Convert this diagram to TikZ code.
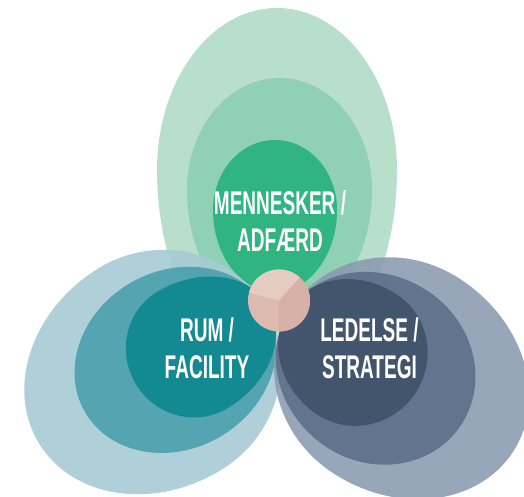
\documentclass[tikz,border=0pt]{standalone}
\usepackage{fontspec}
\newfontfamily\condfont[FakeStretch=0.58]{Liberation Sans}
\definecolor{tOut}{HTML}{B7DFCC}
\definecolor{tMid}{HTML}{90D0B4}
\definecolor{tIn}{HTML}{2FB482}
\definecolor{lOut}{HTML}{A6CBD5}
\definecolor{lMid}{HTML}{4B9FAE}
\definecolor{lIn}{HTML}{0D878F}
\definecolor{rOut}{HTML}{8A9AB0}
\definecolor{rMid}{HTML}{5B6E88}
\definecolor{rIn}{HTML}{3E5169}
\definecolor{cA}{HTML}{E4CCC1}
\definecolor{cB}{HTML}{DCBAB0}
\definecolor{cC}{HTML}{D7B1A8}
\tikzset{
  label/.style={text=white, align=center, font=\condfont\bfseries\fontsize{32.8}{37}\selectfont, inner sep=0pt}
}
% #1 colour, #2 widest point, #3 axis angle, #4 half width, #5 far radius, #6 near radius
\newcommand\eggshape[6]{%
  \fill[#1, shift={#2}, rotate=#3] (0,#4) arc[start angle=90, end angle=-90, x radius=#5pt, y radius=#4pt]
    arc[start angle=270, end angle=90, x radius=#6pt, y radius=#4pt] -- cycle;}
\begin{document}
\begin{tikzpicture}[x=1pt,y=1pt]
\useasboundingbox (0,0) rectangle (524,497);
% top petal
\eggshape{tOut}{(277,327)}{90}{120}{162}{200}
\eggshape{tMid}{(279.5,307)}{90}{92.5}{112}{130}
\eggshape{tIn}{(275,287)}{90}{62}{70}{82}
% left petal
\begin{scope}[fill opacity=0.9]
\eggshape{lOut}{(160,128)}{212}{118}{142}{122}
\eggshape{lMid}{(175,137)}{210}{89}{104}{105}
\eggshape{lIn}{(192.4,147)}{210}{68}{66}{88}
\end{scope}
% right petal
\begin{scope}[fill opacity=0.88]
\eggshape{rOut}{(396.5,121)}{-33}{116}{139}{125}
\eggshape{rMid}{(377,128)}{-35}{93}{101}{105}
\eggshape{rIn}{(357,142.5)}{-35}{72}{70}{82}
\end{scope}
% centre circle
\coordinate (c) at (279,196.5);
\fill[cB] (c) circle [radius=31pt];
\fill[cA] (c) -- ++(48:31pt) arc[start angle=48, end angle=165, radius=31pt] -- cycle;
\fill[cC] (c) -- ++(-90:31pt) arc[start angle=-90, end angle=48, radius=31pt] -- cycle;
% labels
\node[label] (top) at (280,276) {MENNESKER /\\ADFÆRD};
\node[label] (left) at (207,149) {RUM /\\FACILITY};
\node[label] (right) at (369.5,149) {LEDELSE /\\STRATEGI};
\end{tikzpicture}
\end{document}
